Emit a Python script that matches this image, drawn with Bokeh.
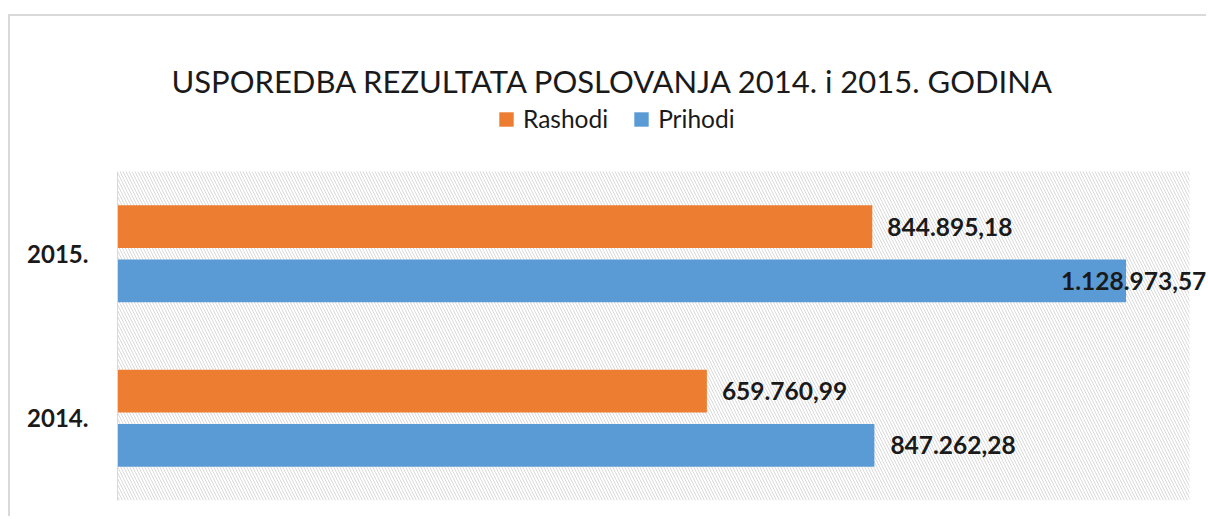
from bokeh.plotting import figure
from bokeh.models import (BoxAnnotation, Legend, LegendItem, Label, FixedTicker,
                          LabelSet, ColumnDataSource, Range1d, Spacer)
from bokeh.transform import dodge
from bokeh.layouts import column, row
from bokeh.core.properties import value
from bokeh.embed import file_html
from bokeh.resources import INLINE

# ---- data ----
years = ["2014.", "2015."]
rashodi = [659760.99, 844895.18]
prihodi = [847262.28, 1128973.57]
series_names = ["Rashodi", "Prihodi"]
title_text = "USPOREDBA REZULTATA POSLOVANJA 2014. i 2015. GODINA"
axis_max = 1200000


def hr_fmt(v):
    s = f"{v:,.2f}"
    return s.replace(",", "X").replace(".", ",").replace("X", ".")


ORANGE = "#ED7D31"
BLUE = "#5B9BD5"
FONT = "Lato"
TXT = "#1a1a1a"

# plot area: 1072 x 329 px; frame extends to the right canvas edge and to the top
n = len(years)
x_end = axis_max * 1091 / 1072
y_end = n * 484 / 329
ypos = [i + 0.5 for i in range(n)]

p = figure(width=1198, height=502, x_range=Range1d(0, x_end),
           y_range=Range1d(0, y_end), output_backend="svg",
           toolbar_location=None, min_border_left=107, min_border_right=0,
           min_border_top=0, min_border_bottom=18)
p.styles = {"border-left": "2px solid #d9d9d9", "border-top": "2px solid #d9d9d9"}

src = ColumnDataSource(dict(y=ypos, rashodi=rashodi, prihodi=prihodi))

hatch = BoxAnnotation(left=0, right=axis_max, bottom=0, top=n,
                      fill_color=None, line_color=None,
                      hatch_pattern="\\", hatch_color="#d9d9d9", hatch_scale=6,
                      hatch_weight=1, level="underlay")
p.add_layout(hatch)

D = 0.165
r1 = p.hbar(y=dodge("y", D), right="rashodi", left=0,
            height=0.26, source=src, fill_color=ORANGE, line_color=None)
r2 = p.hbar(y=dodge("y", -D), right="prihodi", left=0,
            height=0.26, source=src, fill_color=BLUE, line_color=None)

# data labels (x offsets in px from the bar end)
off_r = [15, 15]
off_p = [16, -65]
lsrc_r = ColumnDataSource(dict(x=rashodi, y=ypos, t=[hr_fmt(v) for v in rashodi], off=off_r))
lsrc_p = ColumnDataSource(dict(x=prihodi, y=ypos, t=[hr_fmt(v) for v in prihodi], off=off_p))
for s, d in ((lsrc_r, D), (lsrc_p, -D)):
    ls = LabelSet(x="x", y=dodge("y", d), text="t", source=s,
                  x_offset="off", text_font=value(FONT), text_font_style="bold",
                  text_font_size="24.5px", text_color=TXT,
                  text_baseline="middle", text_align="left")
    p.add_layout(ls)

# axes
p.xaxis.visible = False
p.xgrid.visible = False
p.ygrid.visible = False
p.yaxis.ticker = FixedTicker(ticks=ypos)
p.yaxis.major_label_overrides = {y: t for y, t in zip(ypos, years)}
p.yaxis.bounds = (0, n)
p.yaxis.axis_line_color = "#d9d9d9"
p.yaxis.major_tick_line_color = None
p.yaxis.minor_tick_line_color = None
p.yaxis.major_label_text_font = FONT
p.yaxis.major_label_text_font_style = "bold"
p.yaxis.major_label_text_font_size = "24px"
p.yaxis.major_label_text_color = TXT
p.yaxis.major_label_standoff = 23
p.outline_line_color = None

# title
p.add_layout(Label(x=54, y=420, x_units="screen", y_units="screen",
                   text=title_text, text_font=FONT, text_font_size="31px",
                   text_color=TXT, text_align="left",
                   text_baseline="alphabetic"))

# legend
legend = Legend(items=[LegendItem(label=series_names[0], renderers=[r1]),
                       LegendItem(label=series_names[1], renderers=[r2])],
                orientation="horizontal", location=(380, 367),
                glyph_width=18, glyph_height=18, label_standoff=8, spacing=24,
                padding=0, margin=0, border_line_color=None,
                background_fill_alpha=0, label_text_font=FONT,
                label_text_font_size="24.5px", label_text_color=TXT)
p.add_layout(legend)

layout = row(Spacer(width=8), column(Spacer(height=14), p))
open("out.html", "w").write(file_html(layout, INLINE))
